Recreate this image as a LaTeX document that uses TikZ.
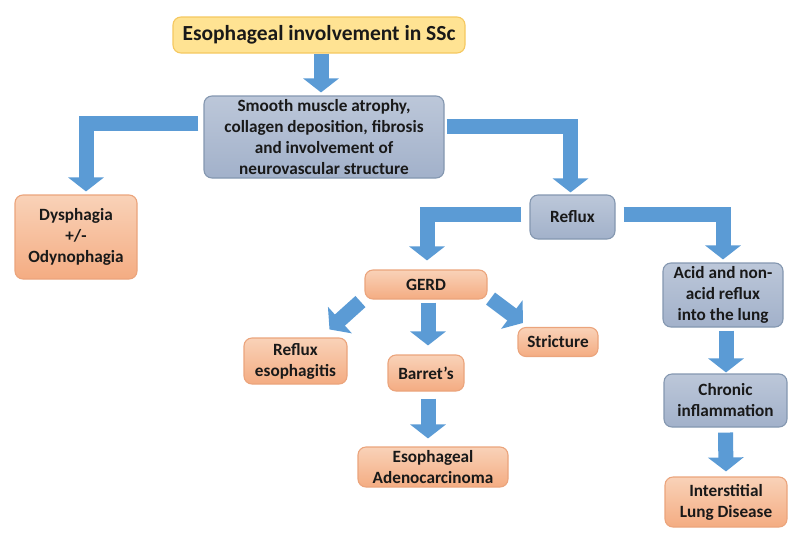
\documentclass[tikz,border=0pt]{standalone}
\usepackage{fontspec}
\setmainfont{Carlito}
\usepackage{tikz}
\usetikzlibrary{arrows.meta,positioning}
\usepackage{xcolor}
\definecolor{flowblue}{HTML}{5B9BD5}
\definecolor{salmontop}{HTML}{F9D2B8}
\definecolor{salmonbot}{HTML}{F4AC82}
\definecolor{salmonline}{HTML}{EBA47C}
\definecolor{slatetop}{HTML}{BCC7D9}
\definecolor{slatebot}{HTML}{A2B1CA}
\definecolor{slateline}{HTML}{8497B0}
\definecolor{headfill}{HTML}{FFE393}
\definecolor{headline}{HTML}{F5C860}
\tikzset{
  box/.style={draw, rounded corners=8pt, line width=1.1pt, align=center, inner sep=2pt,
    text=black!90, font=\bfseries\fontsize{17.2}{21}\selectfont},
  effect/.style={box, draw=salmonline, top color=salmontop, bottom color=salmonbot},
  stage/.style={box, draw=slateline, top color=slatetop, bottom color=slatebot},
  headbox/.style={box, draw=headline, fill=headfill, font=\bfseries\fontsize{21.5}{26}\selectfont},
  flow/.style={draw=flowblue, line width=15pt, -{Triangle[width=35pt,length=14pt]}}
}

\begin{document}
\begin{tikzpicture}[x=1pt,y=-1pt]
\useasboundingbox (0,0) rectangle (800,544);

% Top of the chart
\node[headbox, minimum width=292pt, minimum height=36pt] (ssc) at (319,35) {Esophageal involvement in SSc};
\node[stage, minimum width=240pt, minimum height=82pt] (smc) at (324,137)
  {Smooth muscle atrophy,\\collagen deposition, fibrosis\\and involvement of\\neurovascular structure};

% Left branch
\node[effect, minimum width=122pt, minimum height=84pt] (dys) at (76,237) {Dysphagia\\+/-\\Odynophagia};

% Reflux and GERD
\node[stage, minimum width=85pt, minimum height=44pt] (reflux) at (572.5,217) {Reflux};
\node[effect, minimum width=122pt, minimum height=29pt] (gerd) at (426,284.5) {GERD};
\node[effect, minimum width=103pt, minimum height=46pt] (eso) at (295.5,361) {Reflux\\esophagitis};
\node[effect, minimum width=76pt, minimum height=36pt] (barrett) at (426,373) {Barret’s};
\node[effect, minimum width=80pt, minimum height=29pt] (stricture) at (558,342) {Stricture};
\node[effect, minimum width=150pt, minimum height=40pt] (adeno) at (433,467) {Esophageal\\Adenocarcinoma};

% Lung branch
\node[stage, minimum width=120pt, minimum height=64pt] (acid) at (723,295) {Acid and non-\\acid reflux\\into the lung};
\node[stage, minimum width=123pt, minimum height=53pt] (chronic) at (725.5,400.5) {Chronic\\inflammation};
\node[effect, minimum width=122pt, minimum height=50pt] (ild) at (726,502) {Interstitial\\Lung Disease};

% Arrows
\draw[flow] ([xshift=2pt]ssc.south) -- ([xshift=2pt,yshift=3pt]ssc.south |- smc.north);
\draw[flow] ([xshift=-5pt,yshift=14pt]smc.west) -| ([xshift=10pt,yshift=3pt]dys.north);
\draw[flow] ([xshift=2pt,yshift=11pt]smc.east) -| ([xshift=-2pt,yshift=2pt]reflux.north);
\draw[flow] ([xshift=-8pt,yshift=3pt]reflux.west) -| ([xshift=1pt,yshift=9pt]gerd.north);
\draw[flow] ([xshift=8pt,yshift=3pt]reflux.east) -| ([yshift=3pt]acid.north);
\draw[flow] ([xshift=-4pt,yshift=-2pt]gerd.south west) -- ([xshift=34pt,yshift=8pt]eso.north);
\draw[flow] ([xshift=2pt,yshift=-3pt]gerd.south) -- ([xshift=2pt,yshift=9pt]barrett.north);
\draw[flow] ([xshift=3pt,yshift=1pt]gerd.south east) -- ([xshift=-35pt,yshift=4pt]stricture.north);
\draw[flow] ([xshift=2pt,yshift=-7pt]barrett.south) -- ([xshift=-5pt,yshift=8pt]adeno.north);
\draw[flow] ([xshift=3pt,yshift=-3pt]acid.south) -- ([xshift=0.5pt,yshift=1pt]chronic.north);
\draw[flow] ([yshift=-5pt]chronic.south) -- ([yshift=5pt]ild.north);
\end{tikzpicture}
\end{document}
